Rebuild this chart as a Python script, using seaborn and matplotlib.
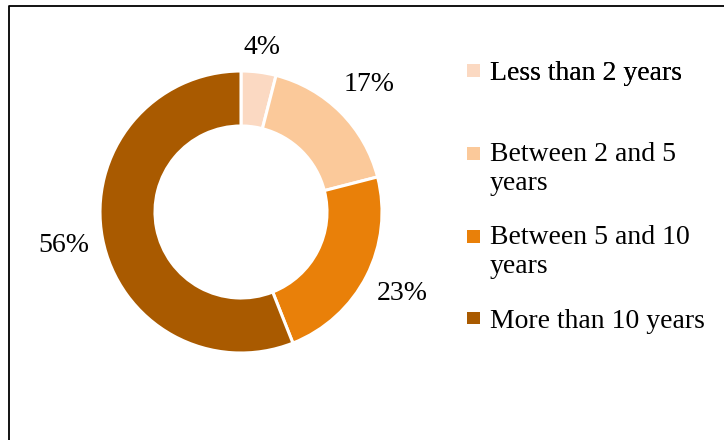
import matplotlib
matplotlib.use("Agg")
import matplotlib.pyplot as plt
import seaborn as sns
from matplotlib.patches import Patch, Rectangle
from matplotlib.lines import Line2D
from matplotlib.legend_handler import HandlerPatch

# data
categories = ["Less than 2 years", "Between 2 and 5\nyears",
              "Between 5 and 10\nyears", "More than 10 years"]
shares = [4, 17, 23, 56]
colors = ["#FBD9C2", "#FBC99A", "#E98009", "#A95A00"]

sns.set_theme(style="white")
plt.rcParams["font.family"] = ["Liberation Serif", "DejaVu Serif"]
plt.rcParams["text.color"] = "black"
FS = 20


class FirstLineSquare(HandlerPatch):
    """Square legend handle lifted so it sits beside the first text line."""
    def __init__(self, lines=1):
        super().__init__()
        self.lines = lines

    def create_artists(self, legend, orig_handle, xdescent, ydescent,
                       width, height, fontsize, trans):
        size = 0.45 * fontsize
        lift = 0.5 * (self.lines - 1) * 1.1 * fontsize
        x = -xdescent + width - size
        y = -ydescent + (height - size) / 2 + lift
        return [Rectangle((x, y), size, size, facecolor=orig_handle.get_facecolor(),
                          edgecolor="none", transform=trans)]


fig = plt.figure(figsize=(7.24, 4.4), dpi=100)

# donut centred at about (241, 212) px, outer radius ~141 px
lim = 1.35
r_px = 141 * lim
ax = fig.add_axes([(241 - r_px) / 724, (440 - 212 - r_px) / 440,
                   2 * r_px / 724, 2 * r_px / 440])
wedges, texts, autotexts = ax.pie(
    shares, colors=colors, startangle=90, counterclock=False,
    wedgeprops=dict(width=0.39, edgecolor="white", linewidth=2.2),
    autopct=lambda p: f"{p:.0f}%", pctdistance=1.28,
    textprops=dict(fontsize=FS, color="black"))
# small slice label sits a little closer to the ring
x0, y0 = autotexts[0].get_position()
autotexts[0].set_position((x0 * 0.92, y0 * 0.92))
ax.set_xlim(-lim, lim)
ax.set_ylim(-lim, lim)
ax.set_aspect("equal")
ax.axis("off")

handles = [Patch(facecolor=c) for c in colors]
common = dict(frameon=False, fontsize=FS, borderpad=0, handlelength=0.45,
              handletextpad=0.36, borderaxespad=0, loc="upper left")

leg1 = fig.legend(handles[:1], categories[:1], bbox_to_anchor=(467 / 724, 1 - 61 / 440),
                  handler_map={handles[0]: FirstLineSquare(1)}, **common)
fig.add_artist(leg1)
hmap = {h: FirstLineSquare(lab.count("\n") + 1) for h, lab in zip(handles[1:], categories[1:])}
leg2 = fig.legend(handles[1:], categories[1:], bbox_to_anchor=(467 / 724, 1 - 142 / 440),
                  handler_map=hmap, labelspacing=1.06, **common)

# chart frame: only the left and top edges fall inside the crop
fig.add_artist(Line2D([9 / 724, 9 / 724, 1], [0, 1 - 6 / 440, 1 - 6 / 440],
                      color="black", linewidth=1.3, transform=fig.transFigure))

fig.savefig("out.png", dpi=100)
